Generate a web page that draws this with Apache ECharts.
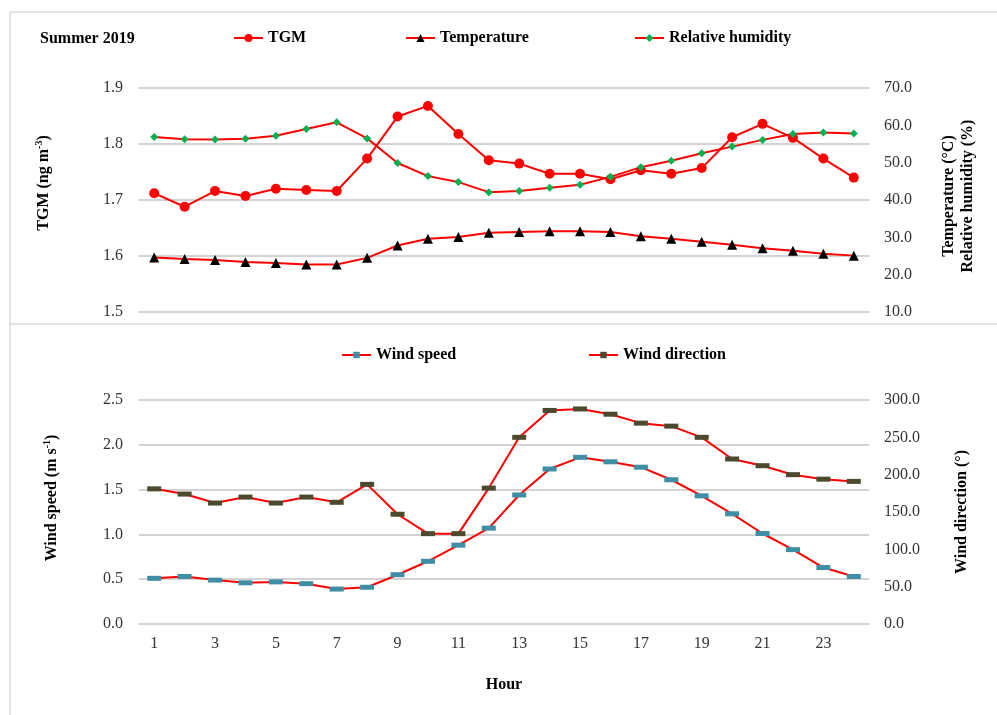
<!DOCTYPE html>
<html>
<head>
<meta charset="utf-8">
<script src="https://cdn.jsdelivr.net/npm/echarts@6/dist/echarts.min.js"></script>
<style>
html,body{margin:0;padding:0;background:#fff;}
#chart{width:997px;height:715px;}
</style>
</head>
<body>
<div id="chart"></div>
<script>
var hours = ['1','2','3','4','5','6','7','8','9','10','11','12','13','14','15','16','17','18','19','20','21','22','23','24'];
var tgm = [1.712,1.688,1.716,1.707,1.720,1.718,1.716,1.774,1.849,1.868,1.818,1.771,1.765,1.747,1.747,1.737,1.753,1.747,1.757,1.812,1.836,1.811,1.774,1.740];
var temperature = [24.6,24.2,23.9,23.4,23.1,22.7,22.7,24.5,27.8,29.6,30.1,31.2,31.4,31.6,31.6,31.4,30.3,29.6,28.8,28.0,27.1,26.4,25.6,25.1];
var humidity = [56.9,56.3,56.2,56.4,57.2,59.0,60.8,56.5,49.9,46.4,44.8,42.1,42.4,43.3,44.1,46.2,48.8,50.5,52.5,54.3,56.1,57.7,58.1,57.8];
var windSpeed = [0.51,0.53,0.49,0.46,0.47,0.45,0.39,0.41,0.55,0.70,0.88,1.07,1.44,1.73,1.86,1.81,1.75,1.61,1.43,1.23,1.01,0.83,0.63,0.53];
var windDirection = [181,174,162,170,162,170,163,187,147,121,121,182,250,286,288,281,269,265,250,221,212,200,194,191];

var serif = '"Liberation Serif","Times New Roman",serif';
var tickColor = '#333';
var gridColor = '#c4c4c4';
var fmt1 = function (v) { return Number(v).toFixed(1); };

var chart = echarts.init(document.getElementById('chart'), null, {renderer: 'canvas'});

function legendAt(name, left, top, ih) {
  return {
    data: [name], left: left, top: top, orient: 'horizontal',
    itemWidth: 29, itemHeight: ih, itemGap: 4, padding: 0,
    textStyle: {fontFamily: serif, fontWeight: 'bold', fontSize: 16, color: '#000'},
    selectedMode: false
  };
}

function nameStyle(pad) {
  return {
    fontFamily: serif, fontWeight: 'bold', fontSize: 16, color: '#000', lineHeight: 19,
    padding: pad,
    rich: {sup: {fontFamily: serif, fontWeight: 'bold', fontSize: 10, verticalAlign: 'top', padding: [0, 0, 8, 0]}}
  };
}

var option = {
  animation: false,
  backgroundColor: '#fff',
  title: {
    text: 'Summer 2019', left: 35, top: 26,
    textStyle: {fontFamily: serif, fontWeight: 'bold', fontSize: 16, color: '#000'}
  },
  graphic: [
    {type: 'line', shape: {x1: 10, y1: 12, x2: 997, y2: 12}, style: {stroke: '#d9d9d9', lineWidth: 1.5}},
    {type: 'line', shape: {x1: 10, y1: 12, x2: 10, y2: 715}, style: {stroke: '#d9d9d9', lineWidth: 1.5}},
    {type: 'line', shape: {x1: 10, y1: 324, x2: 997, y2: 324}, style: {stroke: '#d9d9d9', lineWidth: 1.5}}
  ],
  legend: [
    legendAt('TGM', 233, 30, 10),
    legendAt('Temperature', 405, 30, 10),
    legendAt('Relative humidity', 634, 30, 10),
    legendAt('Wind speed', 341, 347, 8),
    legendAt('Wind direction', 588, 347, 8)
  ],
  grid: [
    {left: 139, right: 128, top: 88, height: 224},
    {left: 139, right: 128, top: 400, height: 224}
  ],
  xAxis: [
    {type: 'category', gridIndex: 0, data: hours, boundaryGap: true, show: false},
    {
      type: 'category', gridIndex: 1, data: hours, boundaryGap: true,
      axisLine: {show: false}, axisTick: {show: false},
      axisLabel: {interval: 1, margin: 12, fontFamily: serif, fontSize: 16, color: tickColor},
      name: 'Hour', nameLocation: 'middle', nameGap: 53,
      nameTextStyle: {fontFamily: serif, fontWeight: 'bold', fontSize: 16, color: '#000'}
    }
  ],
  yAxis: [
    {
      type: 'value', gridIndex: 0, min: 1.5, max: 1.9, interval: 0.1,
      axisLine: {show: false}, axisTick: {show: false},
      axisLabel: {formatter: fmt1, margin: 16, fontFamily: serif, fontSize: 16, color: tickColor},
      splitLine: {show: true, lineStyle: {color: gridColor, width: 1.5}},
      name: 'TGM (ng m{sup|-3})', nameLocation: 'middle', nameGap: 86, nameRotate: 90,
      nameTextStyle: nameStyle([0, 0, 0, 34])
    },
    {
      type: 'value', gridIndex: 0, position: 'right', min: 10, max: 70, interval: 10,
      axisLine: {show: false}, axisTick: {show: false},
      axisLabel: {formatter: fmt1, margin: 15, fontFamily: serif, fontSize: 16, color: tickColor},
      splitLine: {show: false},
      name: 'Temperature (°C)\nRelative humidity (%)', nameLocation: 'middle', nameGap: 70, nameRotate: 90,
      nameTextStyle: nameStyle([0, 0, 0, 8])
    },
    {
      type: 'value', gridIndex: 1, min: 0, max: 2.5, interval: 0.5,
      axisLine: {show: false}, axisTick: {show: false},
      axisLabel: {formatter: fmt1, margin: 16, fontFamily: serif, fontSize: 16, color: tickColor},
      splitLine: {show: true, lineStyle: {color: gridColor, width: 1.5}},
      name: 'Wind speed (m s{sup|-1})', nameLocation: 'middle', nameGap: 78, nameRotate: 90,
      nameTextStyle: nameStyle([0, 0, 0, 28])
    },
    {
      type: 'value', gridIndex: 1, position: 'right', min: 0, max: 300, interval: 50,
      axisLine: {show: false}, axisTick: {show: false},
      axisLabel: {formatter: fmt1, margin: 15, fontFamily: serif, fontSize: 16, color: tickColor},
      splitLine: {show: false},
      name: 'Wind direction (°)', nameLocation: 'middle', nameGap: 83, nameRotate: 90,
      nameTextStyle: nameStyle(0)
    }
  ],
  series: [
    {
      name: 'TGM', type: 'line', xAxisIndex: 0, yAxisIndex: 0, data: tgm,
      symbol: 'circle', symbolSize: 10, showAllSymbol: true,
      lineStyle: {color: '#ff0000', width: 2},
      itemStyle: {color: '#ff0000'}
    },
    {
      name: 'Temperature', type: 'line', xAxisIndex: 0, yAxisIndex: 1, data: temperature,
      symbol: 'triangle', symbolSize: 10, showAllSymbol: true,
      lineStyle: {color: '#ff0000', width: 2},
      itemStyle: {color: '#000000'}
    },
    {
      name: 'Relative humidity', type: 'line', xAxisIndex: 0, yAxisIndex: 1, data: humidity,
      symbol: 'diamond', symbolSize: 8, showAllSymbol: true,
      lineStyle: {color: '#ff0000', width: 2},
      itemStyle: {color: '#00b050'}
    },
    {
      name: 'Wind speed', type: 'line', xAxisIndex: 1, yAxisIndex: 2, data: windSpeed,
      symbol: 'rect', symbolSize: [14, 5], showAllSymbol: true,
      lineStyle: {color: '#ff0000', width: 2},
      itemStyle: {color: '#3e8ea6'}
    },
    {
      name: 'Wind direction', type: 'line', xAxisIndex: 1, yAxisIndex: 3, data: windDirection,
      symbol: 'rect', symbolSize: [14, 5], showAllSymbol: true,
      lineStyle: {color: '#ff0000', width: 2},
      itemStyle: {color: '#4b4a2e'}
    }
  ]
};
chart.setOption(option);
</script>
</body>
</html>
